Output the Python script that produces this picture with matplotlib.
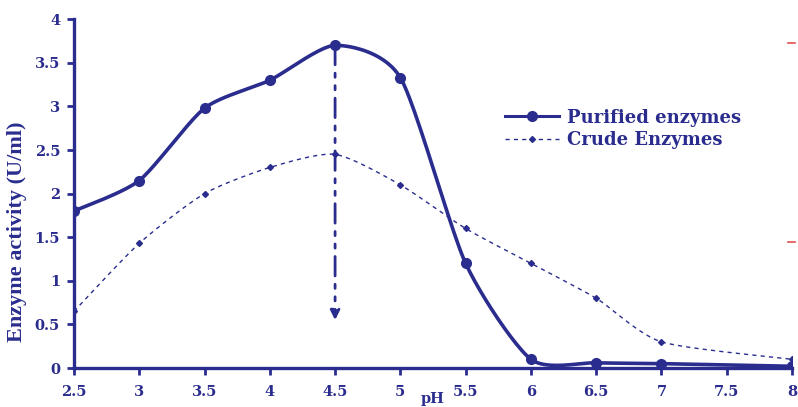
import numpy as np
import matplotlib
matplotlib.use("Agg")
import matplotlib.pyplot as plt
from matplotlib.lines import Line2D

# pH values and measured activities (U/ml)
ph = [2.5, 3, 3.5, 4, 4.5, 5, 5.5, 6, 6.5, 7, 8]
purified = [1.8, 2.15, 2.98, 3.3, 3.7, 3.33, 1.2, 0.1, 0.06, 0.05, 0.02]
crude = [0.65, 1.43, 2.0, 2.3, 2.45, 2.1, 1.6, 1.2, 0.8, 0.3, 0.1]

x_ticks = [2.5, 3, 3.5, 4, 4.5, 5, 5.5, 6, 6.5, 7, 7.5, 8]
x_tick_labels = ["2.5", "3", "3.5", "4", "4.5", "5", "5.5", "6", "6.5", "7", "7.5", "8"]
y_ticks = [0, 0.5, 1, 1.5, 2, 2.5, 3, 3.5, 4]
y_tick_labels = ["0", "0.5", "1", "1.5", "2", "2.5", "3", "3.5", "4"]

optimum_ph = 4.5
arrow_end = 0.55

BLUE = "#2b2d8e"
FONT = "DejaVu Serif"


def smooth(xs, ys, n=24, k=0.7):
    """Cardinal spline through the points (Excel-like smoothed line).
    k scales the tangents; k=1 is Catmull-Rom, lower = less overshoot."""
    xs = np.asarray(xs, float)
    ys = np.asarray(ys, float)
    m = len(xs)
    tx = np.zeros(m)
    ty = np.zeros(m)
    for i in range(m):
        a, b = max(i - 1, 0), min(i + 1, m - 1)
        tx[i] = k * (xs[b] - xs[a]) / 2
        ty[i] = k * (ys[b] - ys[a]) / 2
    t = np.linspace(0, 1, n, endpoint=False)
    h00 = 2 * t ** 3 - 3 * t ** 2 + 1
    h10 = t ** 3 - 2 * t ** 2 + t
    h01 = -2 * t ** 3 + 3 * t ** 2
    h11 = t ** 3 - t ** 2
    out_x, out_y = [], []
    for i in range(m - 1):
        out_x.extend(h00 * xs[i] + h10 * tx[i] + h01 * xs[i + 1] + h11 * tx[i + 1])
        out_y.extend(h00 * ys[i] + h10 * ty[i] + h01 * ys[i + 1] + h11 * ty[i + 1])
    out_x.append(xs[-1])
    out_y.append(ys[-1])
    return np.array(out_x), np.array(out_y)


fig = plt.figure(figsize=(7.98, 4.07), dpi=100)
ax = fig.add_axes([0.0927, 0.0958, 0.8998, 0.857])

sx, sy = smooth(ph, purified)
ax.plot(sx, sy, color=BLUE, lw=2.6, solid_capstyle="round", zorder=3)
ax.plot(ph, purified, "o", color=BLUE, ms=7, zorder=4)

cx, cy = smooth(ph, crude)
ax.plot(cx, cy, color=BLUE, lw=1.0, ls=(0, (3, 3)), zorder=2)
ax.plot(ph, crude, "D", color=BLUE, ms=3, zorder=4)

# optimum pH marker: dash-dot-dot arrow
ax.annotate("", xy=(optimum_ph, arrow_end), xytext=(optimum_ph, max(purified)),
            arrowprops=dict(arrowstyle="-|>", color=BLUE, lw=2.0,
                            ls=(0, (7, 3, 1.5, 3, 1.5, 3)),
                            mutation_scale=14, shrinkA=0, shrinkB=0),
            zorder=3)

ax.set_xlim(2.5, 8)
ax.set_ylim(0, 4)
ax.set_xticks(x_ticks)
ax.set_xticklabels(x_tick_labels)
ax.set_yticks(y_ticks)
ax.set_yticklabels(y_tick_labels)

for side in ("top", "right"):
    ax.spines[side].set_visible(False)
for side in ("left", "bottom"):
    ax.spines[side].set_color(BLUE)
    ax.spines[side].set_linewidth(2.4)
ax.spines["left"].set_zorder(5)
ax.tick_params(colors=BLUE, width=2, length=5, direction="out")
ax.tick_params(axis="x", pad=7)
ax.tick_params(axis="y", pad=5)
for lab in ax.get_xticklabels() + ax.get_yticklabels():
    lab.set_fontfamily(FONT)
    lab.set_fontweight("bold")
    lab.set_fontsize(10.5)

# the scan uses a narrow bold serif for the axis title
ax.set_ylabel("Enzyme activity (U/ml)", color=BLUE, family="Liberation Serif",
              fontsize=16, fontweight="bold")
ax.yaxis.set_label_coords(-0.066, 0.39)
ax.set_xlabel("pH", color=BLUE, family=FONT, fontsize=10.5, fontweight="bold",
              va="center")
ax.xaxis.set_label_coords(0.5, -0.09)

handles = [
    Line2D([], [], color=BLUE, lw=2.2, marker="o", ms=7),
    Line2D([], [], color=BLUE, lw=1.0, ls=(0, (3, 3)), marker="D", ms=3),
]
leg = ax.legend(handles, ["Purified enzymes", "Crude Enzymes"],
                loc="upper left", bbox_to_anchor=(0.578, 0.79), frameon=False,
                handlelength=3.0, handletextpad=0.4, labelspacing=0.25,
                prop=dict(family=FONT, weight="bold", size=13))
for t in leg.get_texts():
    t.set_color(BLUE)

# small red marks at the right margin of the original scan
for yy in (3.73, 1.45):
    ax.plot([7.97, 8.02], [yy, yy], color="#e05050", lw=1.2, clip_on=False)

fig.savefig("out.png", dpi=100)
